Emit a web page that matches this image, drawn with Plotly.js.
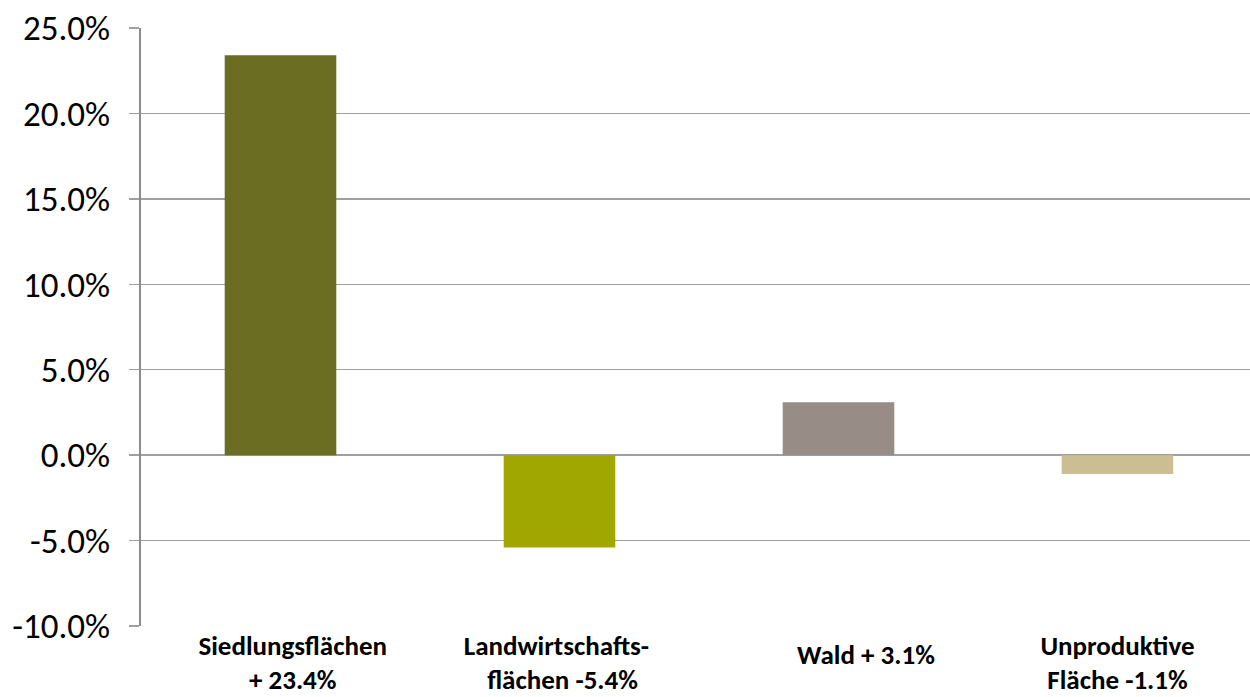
<!DOCTYPE html>
<html>
<head>
<meta charset="utf-8">
<script src="https://cdn.plot.ly/plotly-3.0.1.min.js"></script>
<style>html,body{margin:0;padding:0;background:#fff;}#chart{width:1250px;height:697px;}</style>
</head>
<body>
<div id="chart"></div>
<script>
const NB = "\u00A0";
const categoriesLine1 = [NB.repeat(4) + "Siedlungsflächen", "Landwirtschafts-" + NB, "", "Unproduktive"];
const categoriesLine2 = [NB.repeat(4) + "+ 23.4%", NB + "flächen -5.4%", "", "Fläche -1.1%"];
const categoriesSingle = ["", "", NB.repeat(9) + "Wald + 3.1%", ""];
const values = [0.234, -0.054, 0.031, -0.011];
const barColors = ["#6B6D23", "#A0A800", "#978C86", "#CBBE93"];
const yTicks = [-0.10, -0.05, 0, 0.05, 0.10, 0.15, 0.20, 0.25];
const yTickLabels = ["-10.0%", "-5.0%", "0.0%", "5.0%", "10.0%", "15.0%", "20.0%", "25.0%"];
const catPos = [0, 1, 2, 3];

const trace = {
  type: "bar",
  x: catPos,
  y: values,
  width: 0.4,
  marker: {color: barColors},
  hoverinfo: "none"
};
const dummy2 = {type: "scatter", x: [], y: [], xaxis: "x2", yaxis: "y", hoverinfo: "none"};
const dummy3 = {type: "scatter", x: [], y: [], xaxis: "x3", yaxis: "y", hoverinfo: "none"};

const FONT = "Carlito, Calibri, Lato, sans-serif";
const labelFont = {size: 27, family: FONT, weight: "bold", color: "#000"};
const xRange = [-0.5, 3.475];

function labelAxis(text, standoff, overlay) {
  const ax = {
    range: xRange,
    tickmode: "array",
    tickvals: catPos,
    ticktext: text,
    showgrid: false, zeroline: false, showline: false,
    ticks: "",
    ticklabelstandoff: standoff,
    tickfont: labelFont
  };
  if (overlay) { ax.overlaying = "x"; ax.anchor = "y"; ax.side = "bottom"; }
  return ax;
}

const layout = {
  width: 1250, height: 697,
  margin: {l: 141, r: 0, t: 28, b: 71},
  paper_bgcolor: "#fff", plot_bgcolor: "#fff",
  showlegend: false,
  font: {family: FONT, color: "#000"},
  xaxis: labelAxis(categoriesLine1, 1, false),
  xaxis2: labelAxis(categoriesLine2, 35, true),
  xaxis3: labelAxis(categoriesSingle, 10, true),
  yaxis: {
    range: [-0.10, 0.25],
    tickmode: "array",
    tickvals: yTicks,
    ticktext: yTickLabels,
    showgrid: true,
    gridcolor: "#A0A0A0",
    gridwidth: 1.5,
    zeroline: false,
    showline: true,
    linecolor: "#8C8C8C",
    linewidth: 2,
    ticks: "outside",
    ticklen: 10,
    tickwidth: 1.5,
    tickcolor: "#A0A0A0",
    ticklabelstandoff: 12,
    tickfont: {size: 35, family: FONT, color: "#000"}
  }
};

Plotly.newPlot("chart", [trace, dummy2, dummy3], layout, {staticPlot: true});
</script>
</body>
</html>
